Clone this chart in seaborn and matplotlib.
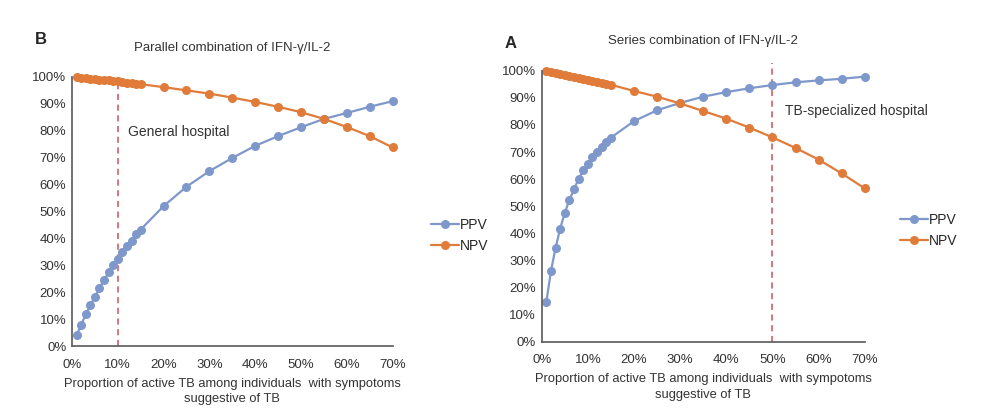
import numpy as np
import pandas as pd
import seaborn as sns
import matplotlib.pyplot as plt
from matplotlib.ticker import PercentFormatter

prev = [1, 2, 3, 4, 5, 6, 7, 8, 9, 10, 11, 12, 13, 14, 15,
        20, 25, 30, 35, 40, 45, 50, 55, 60, 65, 70]

# parallel combination (panel B)
ppv_par = [4.1, 7.8, 11.8, 15.1, 18.3, 21.5, 24.5, 27.4, 30.1, 32.2, 34.8, 37.1, 39.2, 41.5, 43.3,
           52.0, 59.2, 65.0, 69.9, 74.4, 78.0, 81.3, 84.4, 86.6, 88.9, 91.0]
npv_par = [99.8, 99.7, 99.5, 99.4, 99.2, 99.0, 98.9, 98.7, 98.5, 98.3, 98.1, 97.9, 97.7, 97.5, 97.3,
           96.2, 95.0, 93.8, 92.3, 90.7, 88.9, 86.9, 84.4, 81.4, 78.0, 73.8]

# series combination (panel A)
ppv_ser = [14.8, 26.1, 34.7, 41.8, 47.6, 52.3, 56.3, 60.1, 63.2, 65.7, 68.1, 70.0, 71.8, 73.7, 75.3,
           81.4, 85.4, 88.1, 90.4, 92.1, 93.5, 94.7, 95.7, 96.4, 97.0, 97.8]
npv_ser = [99.7, 99.4, 99.0, 98.7, 98.3, 98.0, 97.6, 97.3, 96.9, 96.6, 96.2, 95.9, 95.5, 95.2, 94.8,
           92.5, 90.4, 87.9, 85.1, 82.3, 79.0, 75.4, 71.5, 67.2, 62.1, 56.6]

sns.set_style('white')
plt.rcParams['font.family'] = ['Liberation Sans', 'DejaVu Sans']

colores = {'PPV': '#7F98CB', 'NPV': '#E07B39'}
xlabel = 'Proportion of active TB among individuals  with sympotoms\nsuggestive of TB'

fig = plt.figure(figsize=(9.94, 4.18), dpi=100)
ax1 = fig.add_axes([0.0724, 0.172, 0.3226, 0.644])
ax2 = fig.add_axes([0.545, 0.182, 0.325, 0.649])


def panel(ax, ppv, npv, corte, texto, tx, ty, titulo, letra, lx, ly, legxy, top_line):
    df = pd.DataFrame({'x': prev * 2,
                       'v': [v / 100 for v in ppv + npv],
                       'serie': ['PPV'] * len(prev) + ['NPV'] * len(prev)})
    df['x'] = df['x'] / 100
    sns.lineplot(data=df, x='x', y='v', hue='serie', palette=colores, marker='o',
                 markersize=6.5, markeredgewidth=0, linewidth=1.6, ax=ax, clip_on=False)
    ax.axvline(corte / 100, ymin=0, ymax=top_line, color='#C8525A', ls=(0, (4, 3)),
               lw=1.1, clip_on=False, zorder=0)
    ax.set_xlim(0, 0.7)
    ax.set_ylim(0, 1)
    ax.set_xticks(np.arange(0, 0.71, 0.1))
    ax.set_yticks(np.arange(0, 1.01, 0.1))
    ax.xaxis.set_major_formatter(PercentFormatter(1.0, decimals=0))
    ax.yaxis.set_major_formatter(PercentFormatter(1.0, decimals=0))
    ax.tick_params(axis='x', direction='in', length=4, width=1, color='#595959',
                   labelsize=9.5, pad=9, labelcolor='#333333')
    ax.tick_params(axis='y', length=0, labelsize=9.5, pad=4, labelcolor='#333333')
    for s in ['top', 'right']:
        ax.spines[s].set_visible(False)
    for s in ['left', 'bottom']:
        ax.spines[s].set_color('#595959')
        ax.spines[s].set_linewidth(1.2)
    ax.set_xlabel(xlabel, fontsize=9.3, color='#333333', labelpad=5, linespacing=1.35)
    ax.set_ylabel('')
    ax.text(tx, ty, texto, fontsize=10, color='#333333')
    ax.set_title(titulo, fontsize=9.5, color='#333333', pad=19)
    fig.text(lx, ly, letra, fontsize=12, fontweight='bold')
    ax.legend(title=None, frameon=False, loc='center left', bbox_to_anchor=legxy,
              fontsize=10, handlelength=2.0, handletextpad=0.1, labelspacing=0.5)


panel(ax1, ppv_par, npv_par, 10, 'General hospital', 0.122, 0.78,
      'Parallel combination of IFN-γ/IL-2', 'B', 0.035, 0.895, (1.08, 0.41), 1.0)
panel(ax2, ppv_ser, npv_ser, 50, 'TB-specialized hospital', 0.527, 0.835,
      'Series combination of IFN-γ/IL-2', 'A', 0.508, 0.885, (1.07, 0.41), 1.03)

fig.savefig('out.png', dpi=100)
